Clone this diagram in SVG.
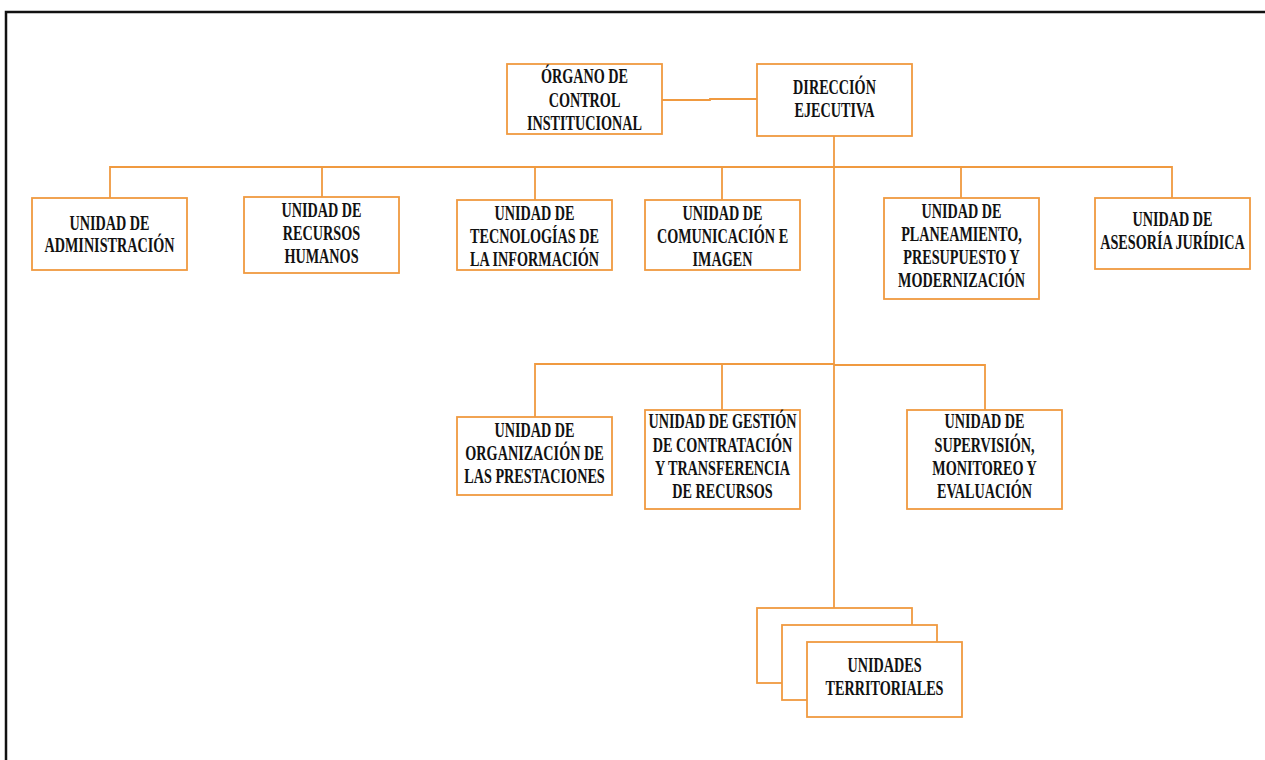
<svg xmlns="http://www.w3.org/2000/svg" width="1265" height="760" viewBox="0 0 1265 760">
<style>
.box{fill:#fff;stroke:#F09A40;stroke-width:1.8}
.ln{fill:none;stroke:#F09A40;stroke-width:1.8}
.t{font-family:"Liberation Serif","Times New Roman",serif;font-weight:bold;font-size:20px;fill:#111;text-anchor:middle}
</style>
<rect width="1265" height="760" fill="#fff"/>
<path d="M6 760 V12 H1265" fill="none" stroke="#111" stroke-width="2.5"/>
<g id="connectors">
<path class="ln" d="M662 100 H710 V99 H757"/>
<path class="ln" d="M834 136 V608"/>
<path class="ln" d="M110 198 V167 H1172 V198"/>
<path class="ln" d="M322 167 V197 M535 167 V200 M722 167 V200 M961 167 V198"/>
<path class="ln" d="M535 417 V364 H834 M834 365 H985 V410 M722 364 V410"/>
</g>
<g id="organo">
<rect class="box" x="507" y="64" width="155" height="70"/>
<text class="t" transform="translate(584.5 0) scale(0.71 1)"><tspan x="0" y="83">ÓRGANO DE</tspan><tspan x="0" y="107">CONTROL</tspan><tspan x="0" y="130">INSTITUCIONAL</tspan></text>
</g>
<g id="direccion">
<rect class="box" x="757" y="64" width="155" height="72"/>
<text class="t" transform="translate(834.5 0) scale(0.71 1)"><tspan x="0" y="94">DIRECCIÓN</tspan><tspan x="0" y="117">EJECUTIVA</tspan></text>
</g>
<g id="administracion">
<rect class="box" x="32" y="198" width="155" height="72"/>
<text class="t" transform="translate(109.5 0) scale(0.71 1)"><tspan x="0" y="230">UNIDAD DE</tspan><tspan x="0" y="252">ADMINISTRACIÓN</tspan></text>
</g>
<g id="rrhh">
<rect class="box" x="244" y="197" width="155" height="76"/>
<text class="t" transform="translate(321.5 0) scale(0.71 1)"><tspan x="0" y="217">UNIDAD DE</tspan><tspan x="0" y="240">RECURSOS</tspan><tspan x="0" y="263">HUMANOS</tspan></text>
</g>
<g id="ti">
<rect class="box" x="457" y="200" width="155" height="70"/>
<text class="t" transform="translate(534.5 0) scale(0.71 1)"><tspan x="0" y="220">UNIDAD DE</tspan><tspan x="0" y="243">TECNOLOGÍAS DE</tspan><tspan x="0" y="266">LA INFORMACIÓN</tspan></text>
</g>
<g id="comunicacion">
<rect class="box" x="645" y="200" width="155" height="70"/>
<text class="t" transform="translate(722.5 0) scale(0.71 1)"><tspan x="0" y="220">UNIDAD DE</tspan><tspan x="0" y="243">COMUNICACIÓN E</tspan><tspan x="0" y="266">IMAGEN</tspan></text>
</g>
<g id="planeamiento">
<rect class="box" x="884" y="198" width="155" height="101"/>
<text class="t" transform="translate(961.5 0) scale(0.71 1)"><tspan x="0" y="218">UNIDAD DE</tspan><tspan x="0" y="241">PLANEAMIENTO,</tspan><tspan x="0" y="264">PRESUPUESTO Y</tspan><tspan x="0" y="287">MODERNIZACIÓN</tspan></text>
</g>
<g id="asesoria">
<rect class="box" x="1095" y="198" width="155" height="71"/>
<text class="t" transform="translate(1172.5 0) scale(0.71 1)"><tspan x="0" y="226">UNIDAD DE</tspan><tspan x="0" y="249">ASESORÍA JURÍDICA</tspan></text>
</g>
<g id="organizacion">
<rect class="box" x="457" y="417" width="155" height="78"/>
<text class="t" transform="translate(534.5 0) scale(0.71 1)"><tspan x="0" y="437">UNIDAD DE</tspan><tspan x="0" y="460">ORGANIZACIÓN DE</tspan><tspan x="0" y="483">LAS PRESTACIONES</tspan></text>
</g>
<g id="gestion">
<rect class="box" x="645" y="410" width="155" height="99"/>
<text class="t" transform="translate(722.5 0) scale(0.71 1)"><tspan x="0" y="428">UNIDAD DE GESTIÓN</tspan><tspan x="0" y="452">DE CONTRATACIÓN</tspan><tspan x="0" y="475">Y TRANSFERENCIA</tspan><tspan x="0" y="498">DE RECURSOS</tspan></text>
</g>
<g id="supervision">
<rect class="box" x="907" y="410" width="155" height="99"/>
<text class="t" transform="translate(984.5 0) scale(0.71 1)"><tspan x="0" y="428">UNIDAD DE</tspan><tspan x="0" y="452">SUPERVISIÓN,</tspan><tspan x="0" y="475">MONITOREO Y</tspan><tspan x="0" y="498">EVALUACIÓN</tspan></text>
</g>
<g id="territoriales">
<rect class="box" x="757" y="608" width="155" height="75"/>
<rect class="box" x="782" y="625" width="155" height="75"/>
<rect class="box" x="807" y="642" width="155" height="75"/>
<text class="t" transform="translate(884.5 0) scale(0.71 1)"><tspan x="0" y="672">UNIDADES</tspan><tspan x="0" y="695">TERRITORIALES</tspan></text>
</g>
</svg>
